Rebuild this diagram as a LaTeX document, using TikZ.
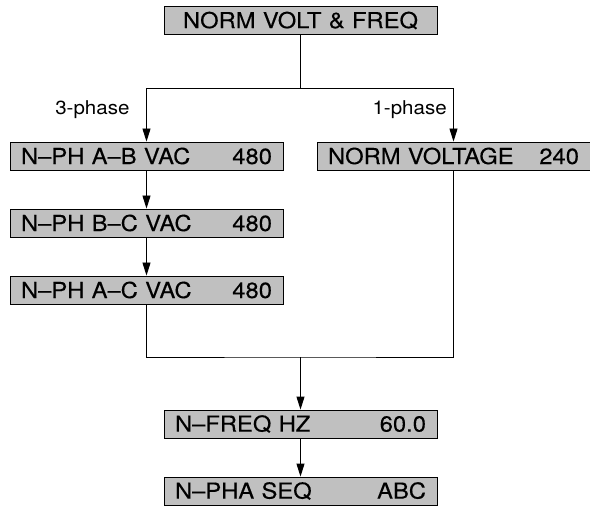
\documentclass[tikz,border=0pt]{standalone}
\usepackage{fontspec}
\setmainfont{TeX Gyre Heros}
\newfontfamily\boxfont[FakeStretch=1.08,FakeBold=0.25]{TeX Gyre Heros}
\newfontfamily\lblfont[FakeStretch=1.08]{TeX Gyre Heros}
\usetikzlibrary{arrows.meta}
\definecolor{cBox}{RGB}{192,192,192}

\tikzset{
  menubox/.style={draw,line width=0.9pt,fill=cBox,minimum width=273pt,minimum height=28pt,
    inner xsep=11pt,inner ysep=0pt,text width=251pt,font=\boxfont\fontsize{22}{23}\selectfont},
  arr/.style={line width=0.9pt,-{Triangle[length=13pt,width=8pt]}},
  lbl/.style={font=\lblfont\fontsize{19}{20}\selectfont}
}

\begin{document}
\begin{tikzpicture}[x=1pt,y=-1pt]
\useasboundingbox (0,0) rectangle (590,508);
\node[menubox,align=center] (top) at (300.5,20.5) {NORM VOLT \& FREQ};
\node[menubox] (ab) at (146.5,156) {N–PH A–B VAC\hfill 480};
\node[menubox] (bc) at (146.5,223) {N–PH B–C VAC\hfill 480};
\node[menubox] (ac) at (146.5,290) {N–PH A–C VAC\hfill 480};
\node[menubox] (nv) at (453.5,156) {NORM VOLTAGE\hfill 240};
\node[menubox] (fq) at (300.5,424) {N–FREQ HZ\hfill 60.0};
\node[menubox] (sq) at (300.5,491) {N–PHA SEQ\hfill ABC};
\coordinate (split) at (300.5,88);
\coordinate (join) at (300.5,357);
\node[lbl,anchor=east] (three) at (133,110) {3-phase};
\node[lbl,anchor=west] (one) at (369,110) {1-phase};
% top branch
\draw[line width=0.9pt] (top) -- (split);
\draw[arr] (split) -| (ab);
\draw[arr] (split) -| (nv);
% three phase chain
\draw[arr] (ab) -- (bc);
\draw[arr] (bc) -- (ac);
% merge
\draw[line width=0.9pt] (ac) |- (join) -| (nv);
\draw[arr] (join) -- (fq);
\draw[arr] (fq) -- (sq);
\end{tikzpicture}
\end{document}
